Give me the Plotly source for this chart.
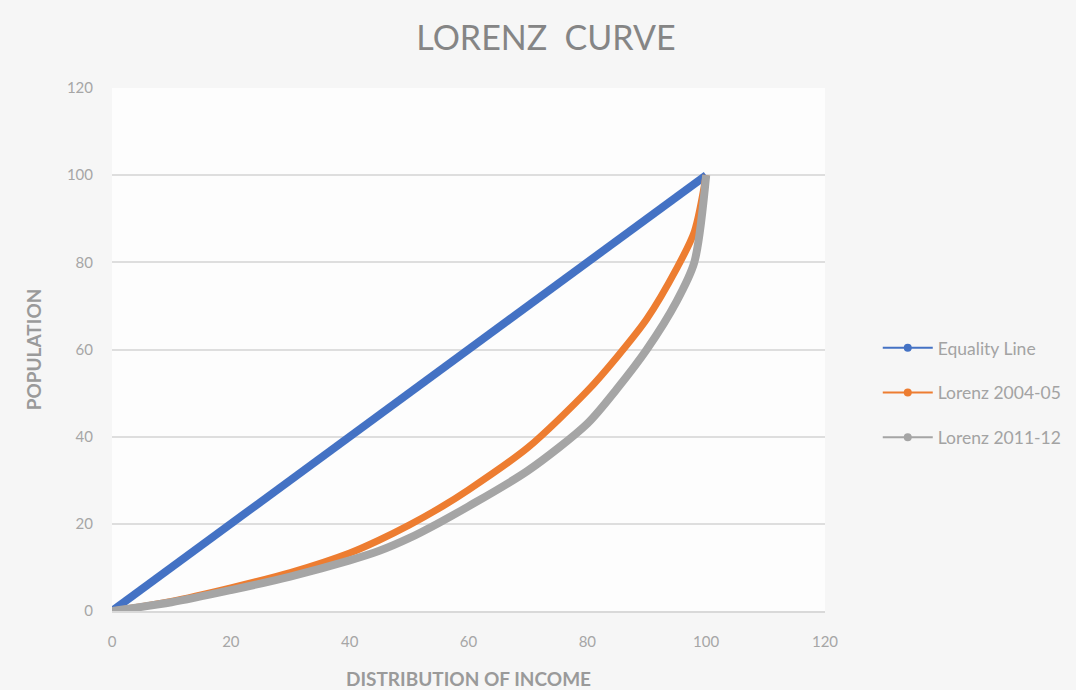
import plotly.graph_objects as go

# Data
equality_x = [0, 100]
equality_y = [0, 100]

lorenz_0405_x = [0, 10, 20, 30, 40, 45, 50, 55, 60, 70, 80, 85, 90, 95, 98, 100]
lorenz_0405_y = [0, 2.2, 5.3, 8.8, 13.3, 16.3, 19.7, 23.5, 27.8, 37.5, 50.5, 58.3, 67, 78.5, 87, 100]

lorenz_1112_x = [0, 10, 20, 30, 40, 45, 50, 55, 60, 70, 80, 85, 90, 95, 98, 100]
lorenz_1112_y = [0, 2, 4.8, 7.9, 11.6, 13.8, 16.7, 20.2, 24, 32.2, 43, 51, 60, 71, 80, 100]

x_ticks = [0, 20, 40, 60, 80, 100, 120]
y_ticks = [0, 20, 40, 60, 80, 100, 120]

FONT = "Lato"
LABEL_GRAY = "#a6a6a6"

fig = go.Figure()

series = [
    ("Equality Line", equality_x, equality_y, "#4472C4", 8),
    ("Lorenz 2004-05", lorenz_0405_x, lorenz_0405_y, "#ED7D31", 7),
    ("Lorenz 2011-12", lorenz_1112_x, lorenz_1112_y, "#A5A5A5", 8),
]
for i, (name, xs, ys, color, width) in enumerate(series):
    fig.add_trace(go.Scatter(
        x=xs, y=ys, name=name, mode="lines",
        line=dict(color=color, width=width, shape="spline", smoothing=0.8),
        showlegend=False, legendgroup=f"g{i}",
    ))
# legend entries (thin line with a dot, as in the reference)
for i, (name, xs, ys, color, width) in enumerate(series):
    fig.add_trace(go.Scatter(
        x=[None], y=[None], name=name, mode="lines+markers",
        line=dict(color=color, width=2),
        marker=dict(color=color, size=8),
        legendgroup=f"g{i}", showlegend=True,
    ))

fig.update_layout(
    width=1076, height=690,
    margin=dict(l=112, r=251, t=88, b=79, autoexpand=False),
    paper_bgcolor="#f6f6f6",
    plot_bgcolor="#fdfdfd",
    title=dict(
        text="LORENZ  CURVE",
        x=546 / 1076, xanchor="center",
        y=1 - 38 / 690, yanchor="middle",
        font=dict(family=FONT, size=34, color="#858585"),
    ),
    font=dict(family=FONT, color=LABEL_GRAY),
    legend=dict(
        x=1.074, xanchor="left", y=0.417, yanchor="middle",
        font=dict(family=FONT, size=17.5, color="#a3a3a3"),
        tracegroupgap=19, itemwidth=50,
        bgcolor="rgba(0,0,0,0)",
    ),
    xaxis=dict(
        range=[0, 120], tickvals=x_ticks, ticktext=[str(v) for v in x_ticks],
        showgrid=False, zeroline=False,
        showline=True, linecolor="#d9d9d9", linewidth=1.5,
        ticks="", tickfont=dict(family=FONT, size=15, color=LABEL_GRAY),
        ticklabelstandoff=16,
        title=dict(text="<b>DISTRIBUTION OF INCOME</b>",
                   font=dict(family=FONT, size=19, color="#9a9a9a"), standoff=24),
    ),
    yaxis=dict(
        range=[0, 120], tickvals=y_ticks, ticktext=[str(v) for v in y_ticks],
        showgrid=True, gridcolor="#dedede", gridwidth=1.5, zeroline=False,
        ticks="", tickfont=dict(family=FONT, size=15, color=LABEL_GRAY),
        ticklabelstandoff=18,
        title=dict(text="<b>POPULATION</b>",
                   font=dict(family=FONT, size=19, color="#9a9a9a"), standoff=20),
    ),
)

fig.write_html("out.html", config={"displayModeBar": False},
               post_script="document.body.style.margin='0px';")
